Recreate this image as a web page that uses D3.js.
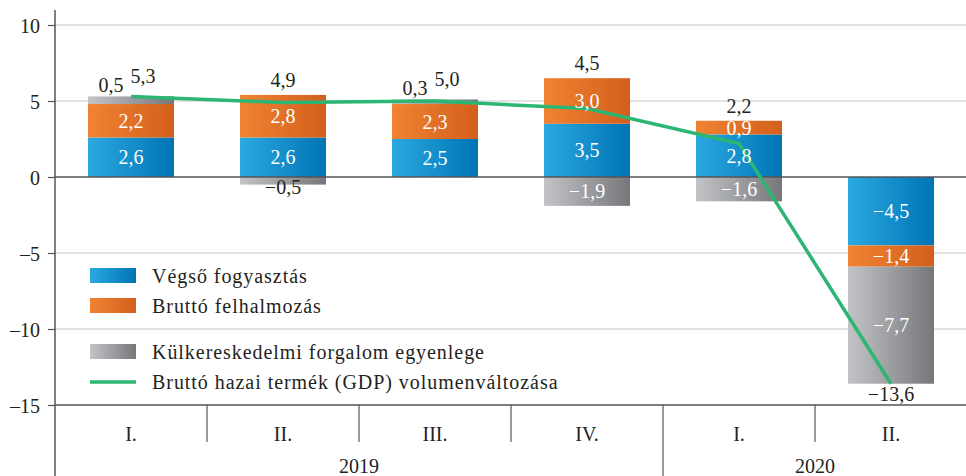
<!DOCTYPE html>
<html>
<head>
<meta charset="utf-8">
<script src="https://cdn.jsdelivr.net/npm/d3@7"></script>
<style>
  body { margin: 0; background: #fff; }
  svg text { font-family: "Liberation Serif", "DejaVu Serif", serif; fill: #231f20; }
</style>
</head>
<body>
<svg id="chart" width="966" height="476"></svg>
<script>
// Data
const quarters = ['I.', 'II.', 'III.', 'IV.', 'I.', 'II.'];
const years = ['2019', '2019', '2019', '2019', '2020', '2020'];
const consumption = [2.6, 2.6, 2.5, 3.5, 2.8, -4.5];
const investment = [2.2, 2.8, 2.3, 3.0, 0.9, -1.4];
const netExports = [0.5, -0.5, 0.3, -1.9, -1.6, -7.7];
const gdp = [5.3, 4.9, 5.0, 4.5, 2.2, -13.6];
const yTicks = [-15, -10, -5, 0, 5, 10];

const seriesNames = ['Végső fogyasztás', 'Bruttó felhalmozás', 'Külkereskedelmi forgalom egyenlege'];
const lineName = 'Bruttó hazai termék (GDP) volumenváltozása';

// Layout
const plot = { left: 55, right: 967, top: 25, bottom: 405 };
const fontSize = 20;
const gradients = {
    blue: ['#2aa9e1', '#0074b4'],
    orange: ['#f08332', '#d35f1c'],
    gray: ['#c3c4c7', '#76777a']
};
const keys = ['blue', 'orange', 'gray'];

const fmt = v => d3.format('.1f')(v).replace('.', ',').replace('-', '–');

const svg = d3.select('#chart');

// Gradients
const defs = svg.append('defs');
keys.forEach(k => {
    const g = defs.append('linearGradient').attr('id', 'grad-' + k)
        .attr('x1', '0%').attr('x2', '100%').attr('y1', '0%').attr('y2', '0%');
    g.append('stop').attr('offset', '0%').attr('stop-color', gradients[k][0]);
    g.append('stop').attr('offset', '100%').attr('stop-color', gradients[k][1]);
});

// Scales
const idx = d3.range(quarters.length);
const x = d3.scaleBand().domain(idx).range([plot.left, plot.right])
    .paddingInner(0.434).paddingOuter(0.217);
const step = x.step();
const y = d3.scaleLinear().domain([-15, 10]).range([plot.bottom, plot.top]);

// Grid
svg.append('g').selectAll('line')
    .data(yTicks.filter(t => t !== 0 && t !== -15))
    .join('line')
    .attr('x1', plot.left).attr('x2', 966)
    .attr('y1', d => y(d)).attr('y2', d => y(d))
    .attr('stroke', '#dadada').attr('stroke-width', 1.5);

// Stacked bars
const table = idx.map(i => ({ i, blue: consumption[i], orange: investment[i], gray: netExports[i] }));
const stacked = d3.stack().keys(keys).offset(d3.stackOffsetDiverging)(table);

const barG = svg.append('g');
stacked.forEach(layer => {
    barG.selectAll(null)
        .data(layer)
        .join('rect')
        .attr('x', d => x(d.data.i))
        .attr('width', x.bandwidth())
        .attr('y', d => y(Math.max(d[0], d[1])))
        .attr('height', d => Math.abs(y(d[0]) - y(d[1])))
        .attr('fill', `url(#grad-${layer.key})`);
});

// Zero line
svg.append('line')
    .attr('x1', plot.left).attr('x2', 966)
    .attr('y1', y(0)).attr('y2', y(0))
    .attr('stroke', '#555').attr('stroke-width', 1.5);

// GDP line
const line = d3.line()
    .x((d, i) => x(i) + x.bandwidth() / 2)
    .y(d => y(d));
svg.append('path')
    .datum(gdp)
    .attr('d', line)
    .attr('fill', 'none')
    .attr('stroke', '#2bb673')
    .attr('stroke-width', 3.5);

// Segment labels
const labelG = svg.append('g').attr('font-size', fontSize);
const outsideGray = {};
stacked.forEach(layer => {
    layer.forEach(d => {
        const v = d.data[layer.key];
        const cx = x(d.data.i) + x.bandwidth() / 2;
        const h = Math.abs(y(d[0]) - y(d[1]));
        if (h >= 10) {
            labelG.append('text')
                .attr('x', cx).attr('y', (y(d[0]) + y(d[1])) / 2 + 7)
                .attr('text-anchor', 'middle').style('fill', '#fff')
                .text(fmt(v));
        } else if (v > 0) {
            outsideGray[d.data.i] = true;
            labelG.append('text')
                .attr('x', cx - 20).attr('y', y(d[1]) - 4)
                .attr('text-anchor', 'middle')
                .text(fmt(v));
        } else {
            labelG.append('text')
                .attr('x', cx).attr('y', y(d[1]) + 17)
                .attr('text-anchor', 'middle')
                .text(fmt(v));
        }
    });
});

// Total (GDP) labels
idx.forEach(i => {
    const top = d3.max(stacked, l => l[i][1]);
    const bottom = d3.min(stacked, l => l[i][0]);
    const cx = x(i) + x.bandwidth() / 2;
    let tx = cx, ty;
    if (gdp[i] < 0) {
        ty = y(bottom) + 17;
    } else if (outsideGray[i]) {
        tx = cx + 12; ty = y(top) - 13;
    } else {
        ty = y(top) - 8;
    }
    labelG.append('text')
        .attr('x', tx).attr('y', ty)
        .attr('text-anchor', 'middle')
        .text(fmt(gdp[i]));
});

// Y axis
const yAxis = d3.axisLeft(y).tickValues(yTicks).tickSize(7).tickFormat(d => String(d).replace('-', '–'));
const yG = svg.append('g').attr('transform', `translate(${plot.left},0)`).call(yAxis);
yG.select('.domain').remove();
yG.selectAll('.tick line').attr('stroke', '#555').attr('stroke-width', 1.2);
yG.selectAll('.tick text').attr('font-size', fontSize).attr('font-family', '"Liberation Serif", serif')
    .attr('x', -15).attr('dy', '0.35em').style('fill', '#231f20');

svg.append('line')
    .attr('x1', plot.left).attr('x2', plot.left)
    .attr('y1', 10).attr('y2', 476)
    .attr('stroke', '#555').attr('stroke-width', 1.5);

// X axis: baseline, quarter separators, labels
svg.append('line')
    .attr('x1', plot.left).attr('x2', 966)
    .attr('y1', plot.bottom).attr('y2', plot.bottom)
    .attr('stroke', '#555').attr('stroke-width', 1.5);

svg.append('g').selectAll('line')
    .data(idx.slice(1))
    .join('line')
    .attr('x1', i => plot.left + i * step).attr('x2', i => plot.left + i * step)
    .attr('y1', plot.bottom)
    .attr('y2', i => years[i] !== years[i - 1] ? 476 : 442)
    .attr('stroke', '#555').attr('stroke-width', 1.2);

svg.append('g').attr('font-size', fontSize).selectAll('text')
    .data(idx)
    .join('text')
    .attr('x', i => x(i) + x.bandwidth() / 2)
    .attr('y', 441)
    .attr('text-anchor', 'middle')
    .text(i => quarters[i]);

const yearGroups = d3.groups(idx, i => years[i]);
svg.append('g').attr('font-size', fontSize).selectAll('text')
    .data(yearGroups)
    .join('text')
    .attr('x', ([, is]) => plot.left + (d3.min(is) + d3.max(is) + 1) / 2 * step)
    .attr('y', 473)
    .attr('text-anchor', 'middle')
    .text(([yr]) => yr);

// Legend
const legend = svg.append('g').attr('font-size', fontSize).attr('letter-spacing', 0.95);
const legendRows = [
    { key: 'blue', label: seriesNames[0], y: 268 },
    { key: 'orange', label: seriesNames[1], y: 298 },
    { key: 'gray', label: seriesNames[2], y: 344 }
];
legendRows.forEach(r => {
    legend.append('rect').attr('x', 90).attr('y', r.y).attr('width', 46).attr('height', 15)
        .attr('fill', `url(#grad-${r.key})`);
    legend.append('text').attr('x', 152).attr('y', r.y + 15).text(r.label);
});
legend.append('line').attr('x1', 90).attr('x2', 136).attr('y1', 382).attr('y2', 382)
    .attr('stroke', '#2bb673').attr('stroke-width', 3.5);
legend.append('text').attr('x', 152).attr('y', 389).text(lineName);
</script>
</body>
</html>
